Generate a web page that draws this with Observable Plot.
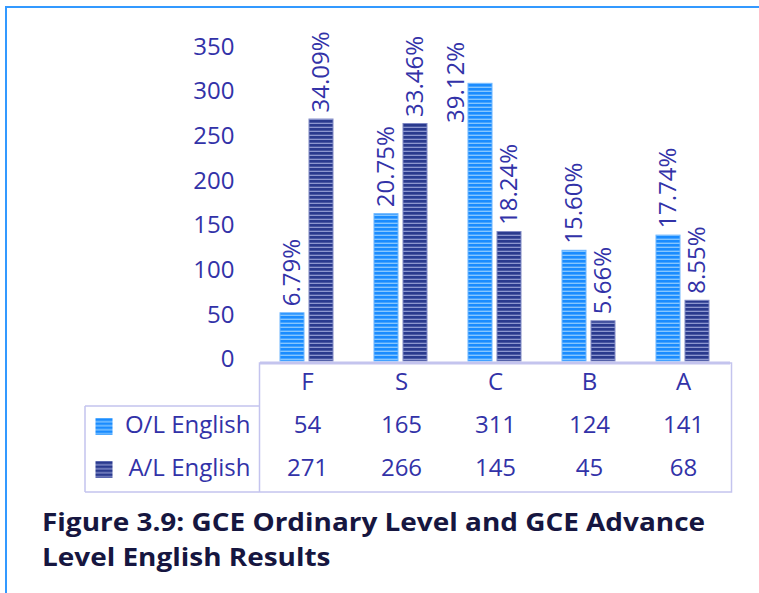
<!DOCTYPE html>
<html>
<head>
<meta charset="utf-8">
<script src="https://cdn.jsdelivr.net/npm/d3@7"></script>
<script src="https://cdn.jsdelivr.net/npm/@observablehq/plot@0.6"></script>
<style>
html, body { margin: 0; padding: 0; background: #fff; }
#wrap { position: relative; width: 759px; height: 593px; overflow: hidden; font-family: "Open Sans", sans-serif; }
#frame { position: absolute; left: 5px; top: 6px; width: 800px; height: 700px; border-left: 2px solid #3399ff; border-top: 2px solid #3399ff; }
#bars { position: absolute; left: 0; top: 0; }
#table { position: absolute; left: 0; top: 361px; }
#title { position: absolute; left: 42px; top: 504px; font-weight: 700; font-size: 25px; line-height: 34.5px; color: #161640; transform-origin: 0 0; white-space: nowrap; }
</style>
</head>
<body>
<svg width="0" height="0" style="position:absolute">
  <defs>
    <pattern id="olPat" patternUnits="userSpaceOnUse" width="4" height="4">
      <rect width="4" height="4" fill="#1a8cff"></rect>
      <rect y="2.6" width="4" height="1.4" fill="#85c6ff"></rect>
    </pattern>
    <pattern id="alPat" patternUnits="userSpaceOnUse" width="4" height="4">
      <rect width="4" height="4" fill="#2a3a8e"></rect>
      <rect y="2.7" width="4" height="1.3" fill="#8c96cf"></rect>
    </pattern>
  </defs>
</svg>
<div id="wrap">
  <div id="frame"></div>
  <div id="bars"></div>
  <div id="table"></div>
  <div id="title"><span id="t1">Figure 3.9: GCE Ordinary Level and GCE Advance</span><br><span>Level English Results</span></div>
</div>
<script>
// ---- data ----
const categories = ["F", "S", "C", "B", "A"];
const series = ["O/L English", "A/L English"];
const olValues = [54, 165, 311, 124, 141];
const alValues = [271, 266, 145, 45, 68];
const olPct = [6.79, 20.75, 39.12, 15.60, 17.74];
const alPct = [34.09, 33.46, 18.24, 5.66, 8.55];
const yTicks = [0, 50, 100, 150, 200, 250, 300, 350];

// ---- styling ----
const textColor = "#3232a8";
const lineColor = "#c4c4ee";
const fills = {"O/L English": "url(#olPat)", "A/L English": "url(#alPat)"};
const edges = {"O/L English": "#6cb6ff", "A/L English": "#7f88c4"};
const font = '"Open Sans", sans-serif';
const mLeft = 259, mRight = 28;
const legendLeft = 85;

const rows = [];
categories.forEach((c, i) => {
  rows.push({cat: c, series: series[0], value: olValues[i], pct: olPct[i]});
  rows.push({cat: c, series: series[1], value: alValues[i], pct: alPct[i]});
});
const yMax = yTicks[yTicks.length - 1];
const fmtPct = d => d.pct.toFixed(2) + "%";

const bars = Plot.plot({
  width: 759, height: 364,
  marginTop: 48.5, marginBottom: 3, marginLeft: mLeft, marginRight: mRight,
  style: {fontFamily: font, fontSize: "24px", color: textColor, background: "transparent", overflow: "visible"},
  fx: {domain: categories, padding: 0, axis: null},
  x: {domain: series, paddingInner: 5 / 30, paddingOuter: 0.657, axis: null},
  y: {domain: [0, yMax]},
  marks: [
    ...series.map(s => Plot.barY(rows.filter(d => d.series === s), {
      fx: "cat", x: "series", y: "value", fill: fills[s], stroke: edges[s], strokeWidth: 1
    })),
    Plot.ruleY([0], {stroke: lineColor, strokeWidth: 3, dy: 1.5}),
    Plot.axisY({ticks: yTicks, tickSize: 0, tickPadding: 26, fontSize: 24, dy: -2, label: null}),
    Plot.text(rows.filter(d => d.value <= 300), {
      fx: "cat", x: "series", y: "value", text: fmtPct,
      rotate: -90, textAnchor: "start", lineAnchor: "middle", dy: -7, fontSize: 24, fill: textColor
    }),
    Plot.text(rows.filter(d => d.value > 300), {
      fx: "cat", x: "series", y: () => yMax, text: fmtPct,
      rotate: -90, textAnchor: "end", lineAnchor: "middle", dy: -7, dx: -24, fontSize: 24, fill: textColor
    })
  ]
});
document.getElementById("bars").appendChild(bars);

const tableY = ["header", ...series];
const table = Plot.plot({
  width: 759, height: 132,
  marginTop: 1.5, marginBottom: 1.5, marginLeft: mLeft, marginRight: mRight,
  style: {fontFamily: font, fontSize: "24px", color: textColor, background: "transparent", overflow: "visible"},
  x: {type: "band", domain: categories, padding: 0, axis: null},
  y: {type: "band", domain: tableY, padding: 0},
  marks: [
    Plot.frame({stroke: lineColor, strokeWidth: 1.5}),
    Plot.text(categories, {x: d => d, y: () => "header", text: d => d, dy: -3, fontSize: 24, fill: textColor}),
    Plot.text(rows, {x: "cat", y: "series", text: d => String(d.value), dy: -3, fontSize: 24, fill: textColor}),
    Plot.axisY({ticks: series, tickSize: 0, tickPadding: 9, fontSize: 24, dy: -3, label: null}),
    ...series.map(s => Plot.dot([s], {
      y: d => d, frameAnchor: "left", dx: -155.5, dy: -1.5, symbol: "square", r: 9.6, fill: fills[s], stroke: null
    }))
  ]
});
document.getElementById("table").appendChild(table);

// legend column box, aligned with the table's row scale
const yScale = table.scale("y");
const boxTop = yScale.apply(series[0]);
const boxBottom = yScale.apply(series[series.length - 1]) + yScale.bandwidth;
d3.select(table).append("path")
  .attr("d", `M${legendLeft},${boxTop}H${mLeft}M${legendLeft},${boxBottom}H${mLeft}M${legendLeft},${boxTop}V${boxBottom}`)
  .attr("fill", "none").attr("stroke", lineColor).attr("stroke-width", 1.5);

function fitTitle() {
  const t1 = document.getElementById("t1");
  document.getElementById("title").style.transform = "none";
  const w0 = t1.getBoundingClientRect().width;
  document.getElementById("title").style.transform = `scaleX(${663 / w0})`;
}
fitTitle();
if (document.fonts && document.fonts.ready) document.fonts.ready.then(fitTitle);
</script>
</body>
</html>
